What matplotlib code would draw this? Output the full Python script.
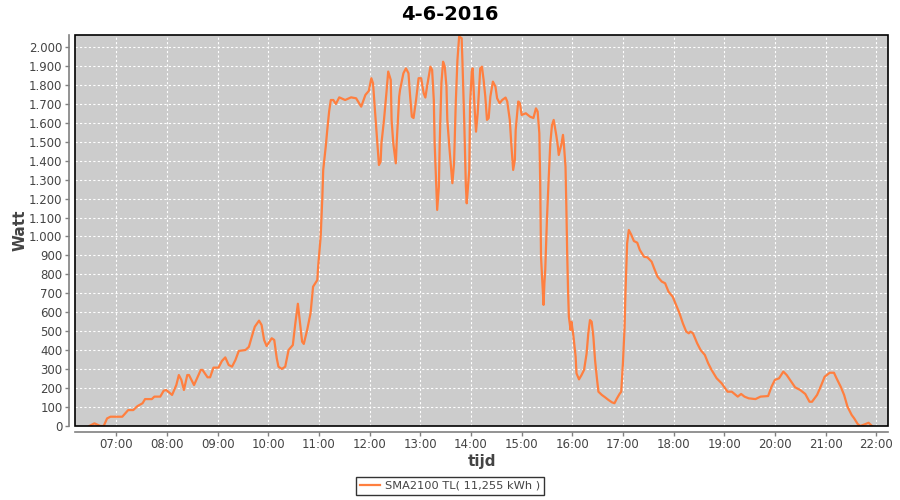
"""Daily power curve of the SMA2100 TL inverter, 4-6-2016."""
import pandas as pd
import matplotlib
matplotlib.use("Agg")
from matplotlib import pyplot as plt
import matplotlib.dates as mdates
from matplotlib.ticker import FuncFormatter, MultipleLocator
from matplotlib.patches import Rectangle

DAY = "2016-06-04"
TITLE = "4-6-2016"
SERIES_LABEL = "SMA2100 TL( 11,255 kWh )"

times = [
    "06:28", "06:34", "06:41", "06:45", "06:49", "06:53", "07:07", "07:14", "07:20", "07:25",
    "07:31", "07:34", "07:42", "07:45", "07:52", "07:56", "07:59", "08:06", "08:11", "08:14",
    "08:17", "08:20", "08:24", "08:26", "08:32", "08:40", "08:42", "08:48", "08:51", "08:55",
    "09:01", "09:05", "09:09", "09:13", "09:17", "09:21", "09:25", "09:33", "09:37", "09:41",
    "09:44", "09:49", "09:52", "09:55", "09:58", "10:04", "10:07", "10:10", "10:12", "10:16",
    "10:20", "10:24", "10:29", "10:32", "10:35", "10:38", "10:40", "10:42", "10:46", "10:50",
    "10:53", "10:58", "10:59", "11:02", "11:04", "11:05", "11:08", "11:10", "11:12", "11:14",
    "11:17", "11:20", "11:24", "11:31", "11:38", "11:44", "11:50", "11:55", "11:59", "12:02",
    "12:04", "12:05", "12:07", "12:09", "12:11", "12:13", "12:14", "12:17", "12:20", "12:22",
    "12:25", "12:26", "12:28", "12:31", "12:32", "12:35", "12:36", "12:40", "12:43", "12:46",
    "12:48", "12:50", "12:52", "12:55", "12:58", "13:01", "13:04", "13:06", "13:08", "13:12",
    "13:14", "13:16", "13:17", "13:19", "13:20", "13:22", "13:23", "13:25", "13:27", "13:29",
    "13:31", "13:32", "13:35", "13:38", "13:40", "13:42", "13:44", "13:46", "13:49", "13:50",
    "13:52", "13:54", "13:55", "13:58", "13:59", "14:01", "14:02", "14:04", "14:06", "14:08",
    "14:11", "14:13", "14:15", "14:17", "14:19", "14:21", "14:23", "14:26", "14:29", "14:31",
    "14:34", "14:37", "14:41", "14:43", "14:46", "14:48", "14:50", "14:52", "14:53", "14:56",
    "14:58", "15:00", "15:05", "15:10", "15:14", "15:17", "15:19", "15:21", "15:22", "15:23",
    "15:25", "15:26", "15:27", "15:28", "15:30", "15:32", "15:34", "15:36", "15:38", "15:41",
    "15:43", "15:44", "15:47", "15:49", "15:50", "15:52", "15:53", "15:54", "15:55", "15:56",
    "15:58", "15:59", "16:01", "16:04", "16:05", "16:08", "16:11", "16:14", "16:17", "16:19",
    "16:21", "16:23", "16:25", "16:27", "16:29", "16:31", "16:35", "16:39", "16:43", "16:47",
    "16:50", "16:53", "16:56", "16:58", "17:00", "17:02", "17:03", "17:04", "17:05", "17:07",
    "17:10", "17:13", "17:17", "17:20", "17:25", "17:29", "17:34", "17:37", "17:41", "17:46",
    "17:50", "17:54", "17:59", "18:03", "18:07", "18:11", "18:15", "18:18", "18:20", "18:23",
    "18:28", "18:32", "18:37", "18:41", "18:45", "18:51", "18:57", "19:04", "19:09", "19:16",
    "19:20", "19:24", "19:29", "19:37", "19:43", "19:52", "19:56", "20:00", "20:05", "20:10",
    "20:14", "20:18", "20:24", "20:30", "20:36", "20:41", "20:44", "20:50", "20:55", "20:59",
    "21:05", "21:10", "21:13", "21:18", "21:22", "21:26", "21:31", "21:34", "21:38", "21:41",
    "21:46", "21:51", "21:55",
]

watt = [
    0, 14, 0, 0, 40, 49, 49, 84, 84, 105,
    120, 142, 142, 155, 155, 186, 190, 164, 216, 269,
    243, 190, 269, 269, 216, 296, 296, 257, 257, 308,
    308, 343, 362, 322, 313, 348, 396, 401, 418, 480,
    524, 556, 533, 454, 422, 463, 454, 357, 313, 301,
    313, 401, 427, 542, 645, 524, 445, 433, 507, 595,
    735, 770, 841, 999, 1210, 1351, 1474, 1571, 1659, 1720,
    1720, 1699, 1734, 1720, 1734, 1729, 1685, 1747, 1768, 1835,
    1808, 1747, 1632, 1509, 1377, 1395, 1492, 1615, 1764, 1870,
    1826, 1615, 1492, 1386, 1492, 1738, 1773, 1861, 1887, 1861,
    1738, 1632, 1625, 1720, 1835, 1835, 1756, 1733, 1791, 1896,
    1879, 1720, 1492, 1263, 1140, 1263, 1493, 1808, 1922, 1896,
    1791, 1615, 1439, 1281, 1387, 1703, 1931, 2055, 2046, 1913,
    1615, 1263, 1175, 1351, 1703, 1870, 1887, 1703, 1553, 1650,
    1887, 1896, 1826, 1738, 1615, 1625, 1738, 1817, 1791, 1729,
    1703, 1720, 1733, 1712, 1615, 1474, 1351, 1404, 1562, 1712,
    1703, 1641, 1650, 1632, 1625, 1676, 1659, 1545, 1298, 893,
    718, 639, 753, 823, 1087, 1298, 1492, 1588, 1615, 1536,
    1474, 1430, 1483, 1536, 1492, 1369, 1158, 911, 718, 577,
    507, 550, 489, 366, 278, 246, 269, 296, 383, 489,
    559, 550, 471, 348, 260, 181, 164, 151, 137, 125,
    120, 146, 169, 181, 331, 524, 700, 841, 964, 1034,
    1008, 976, 967, 929, 893, 890, 867, 832, 788, 762,
    753, 709, 682, 638, 595, 542, 498, 489, 498, 489,
    436, 401, 375, 331, 296, 252, 225, 181, 181, 155,
    169, 155, 146, 142, 155, 158, 207, 243, 252, 287,
    269, 243, 204, 190, 169, 128, 128, 164, 216, 260,
    281, 281, 252, 207, 164, 102, 58, 40, 11, 0,
    8, 17, 0,
]

LINE_COLOR = "#ff7f3f"
PLOT_BG = "#cccccc"
AXIS_GRAY = "#808080"
TEXT_GRAY = "#444444"


def thousands(value, _pos):
    """Dutch style thousands separator: 1.900"""
    return f"{int(round(value)):,}".replace(",", ".")


def main():
    stamps = pd.to_datetime([f"{DAY} {t}" for t in times])

    fig = plt.figure(figsize=(9, 5), dpi=100)
    ax = fig.add_axes([75 / 900, 1 - 426 / 500, 813 / 900, 391 / 500])
    ax.set_facecolor(PLOT_BG)

    ax.plot(stamps, watt, color=LINE_COLOR, linewidth=1.6, solid_joinstyle="round")

    # axis ranges
    ax.set_xlim(pd.Timestamp(f"{DAY} 06:11"), pd.Timestamp(f"{DAY} 22:14"))
    ax.set_ylim(0, 2063)

    ax.xaxis.set_major_locator(mdates.HourLocator(byhour=range(7, 23)))
    ax.xaxis.set_major_formatter(mdates.DateFormatter("%H:%M"))
    ax.yaxis.set_major_locator(MultipleLocator(100))
    ax.yaxis.set_major_formatter(FuncFormatter(thousands))

    ax.grid(True, color="white", linestyle=(0, (2, 2)), linewidth=0.8)
    ax.set_axisbelow(True)

    # JFreeChart look: black plot border, gray axis lines offset a few pixels
    for side in ("top", "right"):
        ax.spines[side].set_visible(False)
    for side in ("left", "bottom"):
        ax.spines[side].set_position(("outward", 4))
        ax.spines[side].set_color(AXIS_GRAY)
        ax.spines[side].set_linewidth(1.2)
    ax.add_patch(Rectangle((0, 0), 1, 1, transform=ax.transAxes, fill=False,
                           edgecolor="black", linewidth=1.2, clip_on=False, zorder=5))

    ax.tick_params(axis="both", colors=AXIS_GRAY, labelcolor=TEXT_GRAY,
                   labelsize=8.5, length=3, width=1, pad=2)

    # title is centred on the whole image, not on the plot area
    fig.text(0.5, 1 - 14 / 500, TITLE, fontsize=14, fontweight="bold",
             ha="center", va="center")
    ax.set_xlabel("tijd", fontsize=11, fontweight="bold", color=TEXT_GRAY, labelpad=2)
    ax.set_ylabel("Watt", fontsize=11, fontweight="bold", color=TEXT_GRAY, labelpad=1)

    leg = fig.legend(loc="center", bbox_to_anchor=(0.5, 0.028), fontsize=8.2,
                     frameon=True, fancybox=False, handlelength=1.8,
                     borderpad=0.35, handletextpad=0.4,
                     labels=[SERIES_LABEL], handles=ax.get_lines())
    leg.get_frame().set_edgecolor("black")
    leg.get_frame().set_linewidth(1.0)
    for txt in leg.get_texts():
        txt.set_color(TEXT_GRAY)

    fig.savefig("out.png", dpi=100)


if __name__ == "__main__":
    main()
